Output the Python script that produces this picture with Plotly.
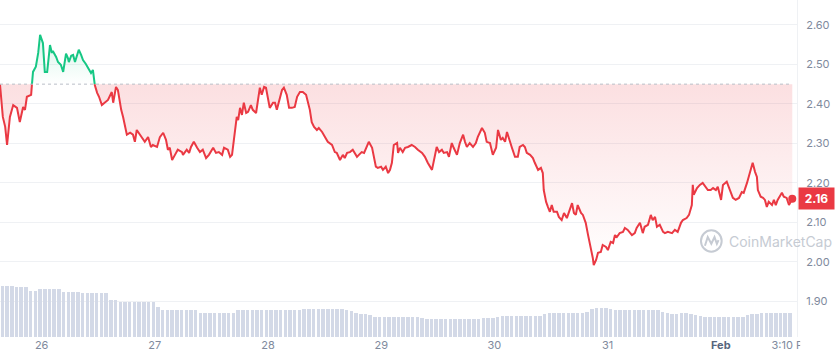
import numpy as np
import pandas as pd
import plotly.graph_objects as go

# ---------------- data ----------------
start_time = "2025-01-25 15:10"

# hours after start_time, and price in USD
hours = [0.0, 0.6, 1.1, 1.5, 2.1, 2.8, 3.6, 4.2, 4.9, 5.3, 5.7, 6.6, 6.8, 7.0, 7.6, 8.1, 8.5, 8.9, 9.1, 9.5,
         10.0, 10.6, 11.0, 11.2, 11.9, 12.3, 12.9, 13.4, 14.0, 14.4, 14.6, 15.1, 15.5, 15.9, 16.3, 16.7, 17.2, 17.6, 18.2, 18.9,
         19.3, 19.7, 20.1, 20.6, 21.0, 21.6, 22.3, 22.9, 23.7, 24.0, 24.6, 25.0, 25.7, 26.1, 26.9, 27.6, 28.2, 28.6, 29.0, 29.7,
         30.3, 30.7, 31.4, 32.0, 32.4, 33.3, 33.9, 34.6, 35.2, 35.6, 36.0, 36.5, 37.1, 37.7, 38.6, 38.8, 39.6, 40.1, 40.5, 41.1,
         41.8, 42.4, 43.0, 43.7, 44.3, 45.2, 45.8, 46.4, 47.1, 47.5, 48.3, 48.8, 49.2, 49.8, 50.2, 50.5, 50.9, 51.3, 51.7, 52.2,
         52.6, 53.2, 53.6, 54.3, 54.7, 55.1, 55.5, 56.0, 56.4, 56.8, 57.2, 57.9, 58.3, 58.7, 59.1, 59.8, 60.2, 60.8, 61.3, 61.9,
         62.5, 63.0, 63.6, 64.2, 64.9, 65.3, 65.7, 66.1, 66.6, 67.2, 67.6, 68.3, 68.9, 69.5, 70.4, 71.0, 71.4, 72.1, 72.7, 73.1,
         73.6, 74.2, 74.8, 75.7, 76.1, 76.7, 77.2, 77.8, 78.2, 78.9, 79.3, 79.7, 80.1, 80.8, 81.2, 81.8, 82.3, 82.7, 83.1, 83.5,
         84.2, 84.4, 84.8, 85.4, 85.9, 86.5, 87.3, 88.0, 88.6, 89.5, 90.1, 90.7, 91.6, 91.8, 92.2, 92.6, 93.1, 93.7, 94.1, 94.8,
         95.2, 95.8, 96.2, 96.9, 97.5, 98.2, 98.6, 99.0, 99.6, 100.3, 100.9, 101.3, 102.2, 102.8, 103.2, 103.9, 104.5, 105.2, 105.6, 106.2,
         106.6, 107.1, 107.5, 107.9, 108.5, 109.2, 109.8, 110.2, 110.9, 111.3, 111.7, 112.4, 113.0, 113.4, 114.1, 114.7, 115.1, 115.3, 115.8, 116.2,
         116.6, 117.0, 117.4, 118.1, 118.5, 119.1, 119.6, 120.2, 120.6, 121.3, 121.7, 122.1, 122.5, 123.2, 123.6, 124.2, 124.7, 125.3, 125.7, 125.9,
         126.4, 126.8, 127.4, 127.8, 128.5, 128.9, 129.5, 130.0, 130.4, 130.8, 131.4, 132.1, 132.5, 133.1, 134.0, 134.6, 135.0, 135.7, 136.3, 136.7,
         137.4, 138.0, 138.4, 138.9, 139.3, 139.9, 140.6, 141.0, 141.6, 142.5, 143.1, 143.7, 144.4, 144.8, 145.6, 146.1, 146.7, 146.9, 147.1, 147.8,
         148.4, 149.0, 149.7, 150.1, 150.7, 151.2, 151.8, 152.2, 152.9, 153.3, 154.1, 154.8, 155.4, 156.0, 156.7, 157.3, 157.7, 158.4, 158.8, 159.4,
         159.6, 160.1, 160.5, 160.7, 161.3, 161.8, 162.2, 162.6, 163.0, 163.7, 164.1, 164.5, 164.9, 165.8, 166.2, 166.8, 167.3, 168.0]

price = [2.449, 2.367, 2.342, 2.296, 2.367, 2.397, 2.390, 2.354, 2.392, 2.385, 2.418, 2.423, 2.453, 2.481, 2.494, 2.529, 2.575, 2.562, 2.554, 2.481,
         2.481, 2.549, 2.529, 2.534, 2.519, 2.506, 2.499, 2.481, 2.527, 2.516, 2.506, 2.522, 2.524, 2.506, 2.519, 2.537, 2.524, 2.511, 2.501, 2.486,
         2.478, 2.486, 2.448, 2.428, 2.418, 2.397, 2.403, 2.410, 2.430, 2.403, 2.443, 2.435, 2.385, 2.367, 2.322, 2.327, 2.322, 2.304, 2.334, 2.322,
         2.314, 2.304, 2.316, 2.291, 2.296, 2.291, 2.316, 2.327, 2.309, 2.284, 2.289, 2.258, 2.271, 2.284, 2.278, 2.271, 2.284, 2.276, 2.291, 2.304,
         2.289, 2.278, 2.284, 2.263, 2.271, 2.289, 2.276, 2.278, 2.271, 2.289, 2.284, 2.266, 2.271, 2.327, 2.367, 2.359, 2.390, 2.372, 2.403, 2.377,
         2.380, 2.397, 2.385, 2.377, 2.415, 2.441, 2.423, 2.443, 2.441, 2.410, 2.390, 2.403, 2.403, 2.385, 2.405, 2.435, 2.441, 2.423, 2.390, 2.390,
         2.392, 2.418, 2.430, 2.430, 2.423, 2.403, 2.385, 2.354, 2.342, 2.334, 2.339, 2.329, 2.316, 2.304, 2.296, 2.278, 2.276, 2.258, 2.271, 2.263,
         2.276, 2.278, 2.284, 2.266, 2.271, 2.278, 2.276, 2.296, 2.304, 2.289, 2.263, 2.241, 2.238, 2.241, 2.233, 2.241, 2.225, 2.233, 2.251, 2.296,
         2.301, 2.276, 2.289, 2.278, 2.289, 2.291, 2.296, 2.291, 2.284, 2.276, 2.266, 2.251, 2.233, 2.246, 2.266, 2.291, 2.278, 2.284, 2.276, 2.278,
         2.266, 2.301, 2.289, 2.271, 2.301, 2.322, 2.304, 2.291, 2.301, 2.291, 2.301, 2.316, 2.339, 2.327, 2.304, 2.301, 2.271, 2.289, 2.334, 2.309,
         2.314, 2.304, 2.329, 2.316, 2.291, 2.266, 2.266, 2.291, 2.296, 2.291, 2.276, 2.271, 2.263, 2.251, 2.233, 2.238, 2.225, 2.182, 2.152, 2.139,
         2.127, 2.144, 2.127, 2.127, 2.114, 2.106, 2.124, 2.111, 2.124, 2.149, 2.124, 2.119, 2.144, 2.124, 2.119, 2.099, 2.068, 2.038, 2.010, 1.992,
         2.005, 2.023, 2.025, 2.043, 2.038, 2.030, 2.051, 2.048, 2.068, 2.063, 2.073, 2.076, 2.086, 2.081, 2.068, 2.073, 2.086, 2.099, 2.073, 2.089,
         2.094, 2.119, 2.106, 2.114, 2.089, 2.094, 2.076, 2.073, 2.076, 2.073, 2.081, 2.076, 2.099, 2.106, 2.111, 2.119, 2.144, 2.195, 2.170, 2.187,
         2.195, 2.200, 2.187, 2.182, 2.182, 2.187, 2.182, 2.190, 2.157, 2.195, 2.203, 2.182, 2.162, 2.157, 2.162, 2.177, 2.175, 2.200, 2.215, 2.241,
         2.251, 2.228, 2.215, 2.182, 2.165, 2.162, 2.157, 2.139, 2.152, 2.144, 2.157, 2.144, 2.157, 2.175, 2.165, 2.162, 2.144, 2.160]

# hourly volume bars (relative units), one per hour after start_time
volume = [1.27, 1.28, 1.27, 1.26, 1.25, 1.25, 1.15, 1.15, 1.20, 1.20, 1.20, 1.20, 1.20, 1.12, 1.12, 1.12, 1.12,
          1.10, 1.10, 1.10, 1.10, 1.10, 1.10, 0.92, 0.92, 0.88, 0.88, 0.88, 0.88, 0.88, 0.88, 0.88, 0.88, 0.75,
          0.68, 0.68, 0.68, 0.68, 0.68, 0.68, 0.68, 0.68, 0.61, 0.61, 0.61, 0.61, 0.61, 0.61, 0.61, 0.61,
          0.68, 0.68, 0.68, 0.68, 0.68, 0.68, 0.68, 0.68, 0.68, 0.68, 0.68, 0.68, 0.68, 0.68,
          0.70, 0.70, 0.70, 0.70, 0.70, 0.70, 0.70, 0.70, 0.70, 0.68,
          0.64, 0.60, 0.58, 0.57, 0.55,
          0.51, 0.50, 0.50, 0.50, 0.50, 0.50, 0.50, 0.50, 0.50, 0.50,
          0.47, 0.46, 0.45, 0.45, 0.45, 0.45, 0.45, 0.45, 0.45, 0.45, 0.45, 0.45, 0.45,
          0.47, 0.48, 0.48, 0.49,
          0.52, 0.53, 0.53, 0.53, 0.53, 0.53, 0.53, 0.53, 0.53,
          0.58, 0.60, 0.60, 0.60, 0.60, 0.60, 0.60, 0.60, 0.60, 0.62,
          0.70, 0.73, 0.73, 0.72, 0.70,
          0.68, 0.68, 0.68, 0.68, 0.68, 0.68, 0.68, 0.68, 0.68, 0.68,
          0.63, 0.60, 0.58, 0.58, 0.59, 0.60, 0.58, 0.55, 0.53,
          0.50, 0.50, 0.50, 0.50, 0.50, 0.50, 0.50, 0.50, 0.50,
          0.55, 0.57, 0.58, 0.60, 0.60, 0.60, 0.60, 0.60, 0.60, 0.60]

base_price = 2.45          # opening price (dotted reference line)
last_price_label = "2.16"

y_ticks = [1.90, 2.00, 2.10, 2.20, 2.30, 2.40, 2.50, 2.60]
x_tick_times = ["2025-01-26 00:00", "2025-01-27 00:00", "2025-01-28 00:00", "2025-01-29 00:00",
                "2025-01-30 00:00", "2025-01-31 00:00", "2025-02-01 00:00", "2025-02-01 15:10"]
x_tick_labels = ["26", "27", "28", "29", "30", "31",
                 "<b><span style='color:#58667e'>Feb</span></b>", "3:10 PM"]

# ---------------- styles ----------------
RED = "#ea3943"
GREEN = "#16c784"
GRID = "#eff1f4"
TICK = "#808a9d"
FONT = "Inter"

t0 = pd.Timestamp(start_time)
h = np.array(hours, dtype=float)
p = np.array(price, dtype=float)

# insert crossing points with the base line so colours switch exactly there
xs, ys = [h[0]], [p[0]]
for i in range(1, len(h)):
    a, b = p[i - 1] - base_price, p[i] - base_price
    if a * b < 0:
        t = a / (a - b)
        xs.append(h[i - 1] + t * (h[i] - h[i - 1]))
        ys.append(base_price)
    xs.append(h[i])
    ys.append(p[i])
xs = np.array(xs)
ys = np.array(ys)
xt = t0 + pd.to_timedelta(xs, unit="h")

red_line = [y if y <= base_price + 1e-9 else None for y in ys]
green_line = [y if y >= base_price - 1e-9 else None for y in ys]

fig = go.Figure()

# volume bars
vol_t = t0 + pd.to_timedelta(np.arange(len(volume)) + 0.5, unit="h")
fig.add_trace(go.Bar(x=vol_t, y=volume, yaxis="y2", marker_color="#d3d9e7",
                     marker_line_width=0, width=0.74 * 3600 * 1000, hoverinfo="skip"))

# red fill (between base and price below base)
fig.add_trace(go.Scatter(x=xt, y=[base_price] * len(xs), mode="lines",
                         line=dict(width=0), hoverinfo="skip"))
fig.add_trace(go.Scatter(x=xt, y=np.minimum(ys, base_price), mode="lines", line=dict(width=0),
                         fill="tonexty", hoverinfo="skip",
                         fillgradient=dict(type="vertical", start=1.99, stop=base_price,
                                           colorscale=[[0, "rgba(234,57,67,0.0)"],
                                                       [1, "rgba(234,57,67,0.16)"]])))
# green fill
fig.add_trace(go.Scatter(x=xt, y=[base_price] * len(xs), mode="lines",
                         line=dict(width=0), hoverinfo="skip"))
fig.add_trace(go.Scatter(x=xt, y=np.maximum(ys, base_price), mode="lines", line=dict(width=0),
                         fill="tonexty", hoverinfo="skip",
                         fillgradient=dict(type="vertical", start=base_price, stop=2.58,
                                           colorscale=[[0, "rgba(22,199,132,0.0)"],
                                                       [1, "rgba(22,199,132,0.18)"]])))

# price lines
fig.add_trace(go.Scatter(x=xt, y=red_line, mode="lines", line=dict(color=RED, width=2),
                         connectgaps=False, hoverinfo="skip"))
fig.add_trace(go.Scatter(x=xt, y=green_line, mode="lines", line=dict(color=GREEN, width=2),
                         connectgaps=False, hoverinfo="skip"))
# last point marker
fig.add_trace(go.Scatter(x=[xt[-1]], y=[ys[-1]], mode="markers",
                         marker=dict(color=RED, size=8), hoverinfo="skip"))

x_end = t0 + pd.Timedelta(hours=169)

fig.update_layout(
    width=836, height=359,
    margin=dict(l=0, r=39, t=0, b=22),
    paper_bgcolor="white", plot_bgcolor="white",
    showlegend=False,
    font=dict(family=FONT, color=TICK, size=11),
    xaxis=dict(type="date", range=[t0, x_end], tickvals=list(x_tick_times),
               ticktext=x_tick_labels, showgrid=False, zeroline=False, ticks="",
               tickfont=dict(size=11, color=TICK), showline=False, fixedrange=True),
    yaxis=dict(side="right", range=[1.810, 2.663], tickvals=y_ticks,
               ticktext=[f"{v:.2f}" for v in y_ticks], showgrid=True, gridcolor=GRID,
               gridwidth=1, zeroline=False, ticks="", tickfont=dict(size=11, color=TICK),
               showline=True, linecolor=GRID, linewidth=1, ticklabelstandoff=6),
    yaxis2=dict(overlaying="y", range=[0, 8.425], visible=False),
    bargap=0,
)

# dotted base line
fig.add_shape(type="line", xref="paper", x0=0, x1=0.993, yref="y", y0=base_price, y1=base_price,
              line=dict(color="#b9bec8", width=1, dash="dot"), layer="above")

# watermark
wm_col = "#c6cbd3"
fig.add_shape(type="circle", xref="paper", yref="y", x0=0.8795, x1=0.9055, y0=2.026, y1=2.080,
              line=dict(color=wm_col, width=2))
fig.add_shape(type="path", xref="paper", yref="y",
              path="M 0.8845 2.041 L 0.8880 2.063 L 0.8925 2.046 L 0.8965 2.063 L 0.8995 2.046 L 0.9015 2.055",
              line=dict(color=wm_col, width=2))
fig.add_annotation(xref="paper", yref="y", x=0.912, y=2.053, xanchor="left", yanchor="middle",
                   text="CoinMarketCap", showarrow=False,
                   font=dict(family=FONT, size=14, color=wm_col))

# current price badge
fig.add_annotation(xref="paper", yref="y", x=1.0, y=2.16, xanchor="left", yanchor="middle",
                   xshift=1, text=f"<b>{last_price_label}</b>", showarrow=False,
                   bgcolor=RED, borderpad=3, width=29,
                   font=dict(family=FONT, size=12, color="white"))

# clip the last x label like the original widget
fig.add_shape(type="rect", xref="paper", yref="paper", x0=1.004, x1=1.06, y0=-0.07, y1=-0.005,
              line=dict(width=0), fillcolor="white", layer="above")

fig.write_html("out.html")
